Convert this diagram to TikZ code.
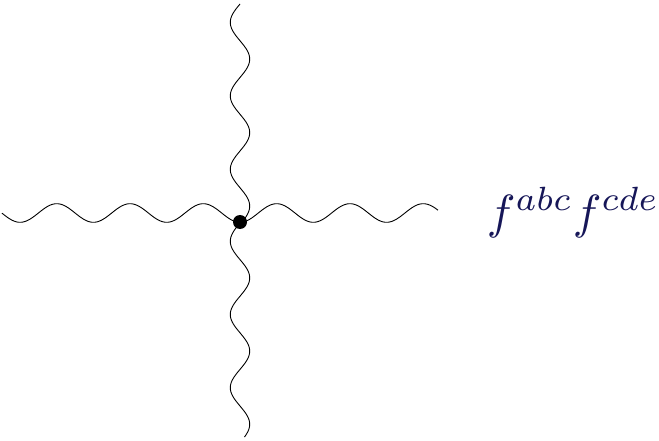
\documentclass[tikz,border=0pt]{standalone}
\usepackage{xcolor}
\definecolor{navy}{RGB}{22,22,88}
\begin{document}
\begin{tikzpicture}[x=1pt,y=-1pt,
  gluon/.style={line width=0.9pt, black},
  vertexdot/.style={circle, fill=black, minimum size=14pt, inner sep=0pt}]
\useasboundingbox (0,0) rectangle (659,441);
% left gluon
\draw[gluon] plot[domain=2:240, samples=200, smooth] (\x, {213 + 9.3*cos(4.9113*(\x-240))});
% right gluon
\draw[gluon] plot[domain=240:438, samples=200, smooth] (\x, {213 + 9.3*cos(4.9113*(\x-240))});
% top gluon
\draw[gluon] plot[domain=4:222, samples=200, smooth] ({240 - 9.7*sin(4.898*(\x-4))}, \x);
% bottom gluon
\draw[gluon] plot[domain=223:437, samples=200, smooth] ({240 - 9.7*sin(4.918*(\x-223))}, \x);
\node[vertexdot] (v) at (240,222) {};
\node[anchor=west, inner sep=0pt, text=navy, scale=4.8] (lab) at (486,212.5) {$f^{abc}f^{cde}$};
\end{tikzpicture}
\end{document}
